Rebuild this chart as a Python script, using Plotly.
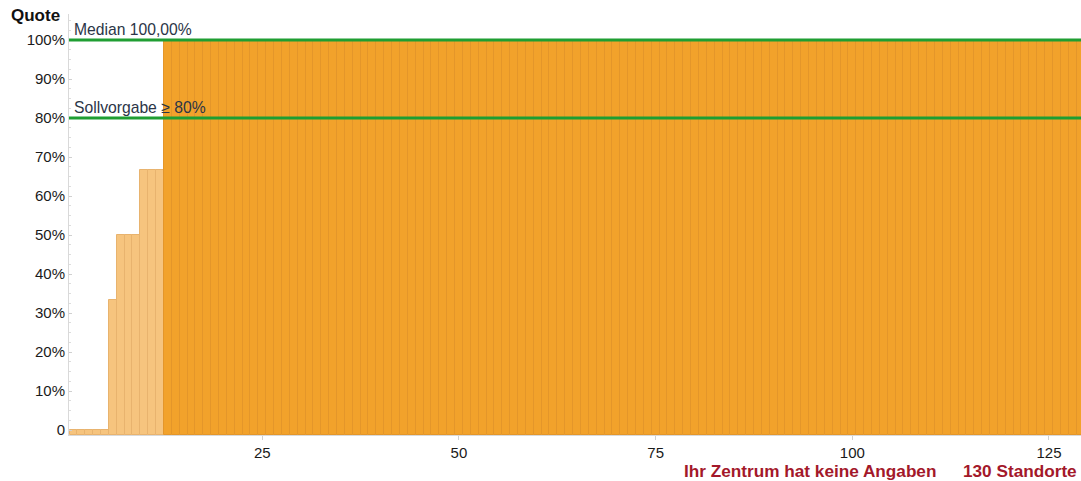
import plotly.graph_objects as go

# ---- data ----
site_index = list(range(1, 131))
quote_values = [0.0] * 5 + [33.33] + [50.0] * 3 + [66.67] * 3 + [100.0] * 118
median_value = 100.0
target_value = 80.0
y_tick_values = [0, 10, 20, 30, 40, 50, 60, 70, 80, 90, 100]
y_tick_labels = ["0", "10%", "20%", "30%", "40%", "50%", "60%", "70%", "80%", "90%", "100%"]
x_tick_values = [25, 50, 75, 100, 125]
median_label = "Median 100,00%"
target_label = "Sollvorgabe \u2265 80%"
axis_title = "Quote"
footer_left = "Ihr Zentrum hat keine Angaben"
footer_right = "130 Standorte"

# ---- styling ----
W, H = 1081, 481
ML, MR, MT, MB = 69, 0, 14, 46
Y_MIN, Y_MAX = -1.28, 106.7
X_MIN, X_MAX = 0.43, 129.07
FONT = "Liberation Sans, Arial, sans-serif"

fill_colors = ["#F2A22B" if v >= target_value else "#F6C47E" for v in quote_values]
line_colors = ["#E4962A" if v >= target_value else "#E8B36E" for v in quote_values]

fig = go.Figure()
fig.add_trace(go.Bar(
    x=site_index,
    y=[v - Y_MIN for v in quote_values],
    base=Y_MIN,
    marker=dict(color=fill_colors, line=dict(color=line_colors, width=1)),
    width=1.0,
    hoverinfo="skip",
))

pw = W - ML - MR
ph = H - MT - MB

def px_x(px):
    return (px - ML) / pw

def px_y(py):
    return (H - MB - py) / ph

for val in (median_value, target_value):
    fig.add_shape(type="line", xref="paper", yref="y", x0=0, x1=1, y0=val, y1=val,
                  line=dict(color="#1F9E32", width=3))

label_font = dict(family=FONT, size=15.7, color="#2B3547")
fig.add_annotation(text=median_label, xref="paper", yref="y", x=px_x(72), y=median_value,
                   xanchor="left", yanchor="bottom", yshift=0, showarrow=False, font=label_font)
fig.add_annotation(text=target_label, xref="paper", yref="y", x=px_x(72), y=target_value,
                   xanchor="left", yanchor="bottom", yshift=0, showarrow=False, font=label_font)

fig.add_annotation(text="<b>" + axis_title + "</b>", xref="paper", yref="paper",
                   x=px_x(62), y=px_y(15), xanchor="right", yanchor="middle", showarrow=False,
                   font=dict(family=FONT, size=17, color="#111111"))

red_font = dict(family=FONT, size=17.2, color="#A3182A")
fig.add_annotation(text="<b>" + footer_left + "</b>", xref="paper", yref="paper",
                   x=px_x(682), y=px_y(471), xanchor="left", yanchor="middle", showarrow=False,
                   font=red_font)
fig.add_annotation(text="<b>" + footer_right + "</b>", xref="paper", yref="paper",
                   x=px_x(1079), y=px_y(471), xanchor="right", yanchor="middle", showarrow=False,
                   font=red_font)

tick_font = dict(family=FONT, size=15, color="#1A1A1A")
fig.update_xaxes(range=[X_MIN, X_MAX], tickvals=x_tick_values, showgrid=False, zeroline=False,
                 showline=True, linecolor="#D9D9D9", linewidth=1,
                 ticks="outside", ticklen=4, tickcolor="#D0D0D0", tickfont=tick_font)
fig.update_yaxes(range=[Y_MIN, Y_MAX], tickvals=y_tick_values, ticktext=y_tick_labels,
                 showgrid=False, zeroline=False, showline=True, linecolor="#D9D9D9", linewidth=1,
                 ticks="inside", ticklen=3, tickcolor="#D0D0D0",
                 minor=dict(dtick=2.5, tick0=0, ticks="inside", ticklen=2, tickcolor="#DDDDDD"),
                 tickfont=tick_font)

fig.update_layout(width=W, height=H, margin=dict(l=ML, r=MR, t=MT, b=MB),
                  plot_bgcolor="white", paper_bgcolor="white", showlegend=False, bargap=0)

fig.write_html("out.html", config={"displayModeBar": False},
               post_script="document.body.style.margin='0';document.body.style.overflow='hidden';")
